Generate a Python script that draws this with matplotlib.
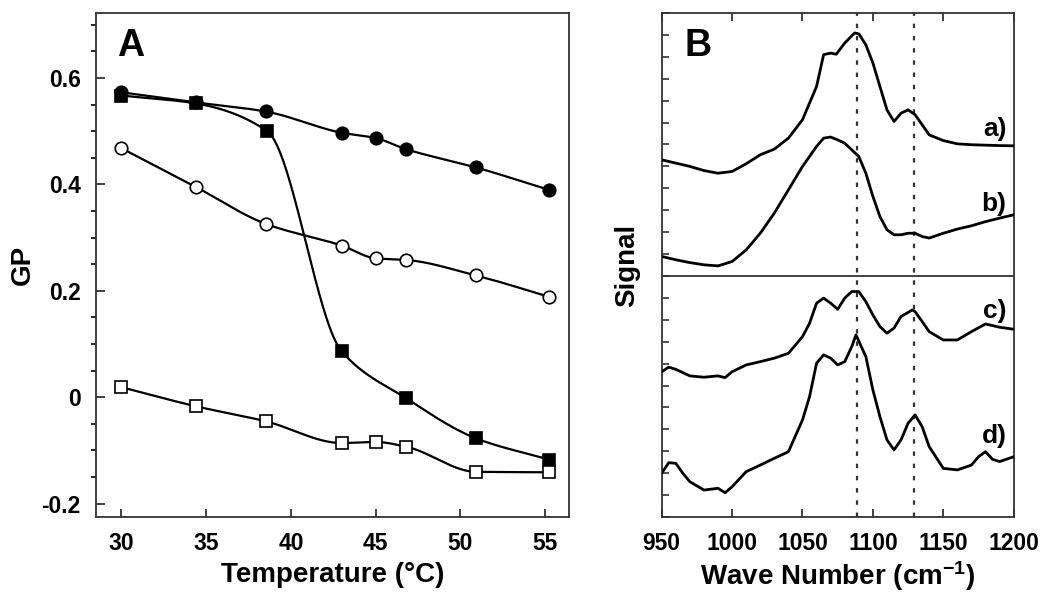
import numpy as np
import matplotlib
matplotlib.use('Agg')
import matplotlib.pyplot as plt
from matplotlib.ticker import MultipleLocator

plt.rcParams['font.family'] = ['Liberation Sans', 'DejaVu Sans']
plt.rcParams['font.weight'] = 'bold'
plt.rcParams['mathtext.fontset'] = 'custom'
plt.rcParams['mathtext.rm'] = 'Liberation Sans:bold'
plt.rcParams['mathtext.default'] = 'rm'

# panel A data (GP vs temperature)
t_fc = [30, 34.4, 38.5, 43.0, 45.0, 46.8, 50.9, 55.2]
gp_fc = [0.573, 0.554, 0.537, 0.497, 0.487, 0.466, 0.432, 0.390]
t_oc = [30, 34.4, 38.5, 43.0, 45.0, 46.8, 50.9, 55.2]
gp_oc = [0.468, 0.395, 0.326, 0.285, 0.261, 0.258, 0.229, 0.189]
t_fs = [30, 34.4, 38.6, 43.0, 46.8, 50.9, 55.2]
gp_fs = [0.567, 0.552, 0.500, 0.086, -0.002, -0.077, -0.117]
t_os = [30, 34.4, 38.5, 43.0, 45.0, 46.8, 50.9, 55.2]
gp_os = [0.019, -0.017, -0.045, -0.086, -0.084, -0.093, -0.140, -0.141]

# panel B data (spectra, arbitrary offset units)
wn_a = [950, 960, 970, 980, 990, 1000, 1010, 1020, 1030, 1040, 1050, 1060, 1065, 1070, 1074,
        1080, 1087, 1090, 1095, 1100, 1105, 1110, 1115, 1120, 1125, 1130, 1140, 1150, 1160,
        1170, 1180, 1190, 1200]
sig_a = [16.30, 16.15, 16.00, 15.81, 15.69, 15.77, 16.12, 16.53, 16.79, 17.29, 18.13, 19.65,
         21.10, 21.17, 21.12, 21.63, 22.09, 22.05, 21.55, 20.72, 19.65, 18.58, 18.05, 18.43,
         18.58, 18.36, 17.44, 17.18, 17.03, 16.99, 16.97, 16.95, 16.94]
wn_b = [950, 960, 970, 980, 990, 1000, 1010, 1020, 1030, 1040, 1050, 1060, 1065, 1070, 1075,
        1080, 1090, 1095, 1100, 1105, 1110, 1115, 1120, 1125, 1130, 1135, 1140, 1150, 1160,
        1170, 1180, 1190, 1200]
sig_b = [11.89, 11.74, 11.61, 11.51, 11.46, 11.66, 12.19, 12.95, 13.87, 14.93, 16.00, 16.91,
         17.29, 17.34, 17.21, 17.06, 16.45, 15.69, 14.63, 13.71, 13.11, 12.88, 12.88, 12.95,
         12.95, 12.80, 12.73, 12.95, 13.14, 13.29, 13.48, 13.64, 13.79]
wn_c = [950, 955, 960, 970, 980, 990, 995, 1000, 1010, 1020, 1030, 1040, 1050, 1055, 1060,
        1065, 1070, 1075, 1080, 1085, 1090, 1095, 1100, 1105, 1110, 1115, 1120, 1128, 1130,
        1135, 1140, 1150, 1160, 1170, 1180, 1190, 1200]
sig_c = [6.63, 6.84, 6.74, 6.44, 6.38, 6.44, 6.36, 6.63, 6.94, 7.09, 7.25, 7.47, 8.23, 8.84,
         9.76, 9.99, 9.76, 9.48, 9.99, 10.29, 10.29, 9.83, 9.22, 8.69, 8.39, 8.62, 9.15, 9.45,
         9.37, 8.92, 8.46, 8.08, 8.08, 8.46, 8.81, 8.66, 8.57]
wn_d = [950, 955, 960, 965, 970, 980, 990, 995, 1000, 1010, 1020, 1030, 1040, 1050, 1055,
        1060, 1065, 1070, 1075, 1080, 1085, 1088, 1095, 1100, 1105, 1110, 1115, 1120, 1125,
        1130, 1135, 1140, 1150, 1160, 1170, 1175, 1180, 1185, 1190, 1200]
sig_d = [2.00, 2.48, 2.45, 2.00, 1.61, 1.23, 1.31, 1.11, 1.38, 2.07, 2.37, 2.68, 2.98, 4.43,
         5.49, 7.02, 7.40, 7.25, 6.94, 7.09, 7.78, 8.31, 7.32, 5.80, 4.58, 3.52, 3.06, 3.52,
         4.28, 4.66, 4.12, 3.21, 2.22, 2.15, 2.37, 2.75, 2.98, 2.63, 2.53, 2.75]
spec_labels = ['a)', 'b)', 'c)', 'd)']
label_sig = [17.7, 14.3, 9.4, 3.7]
ref_lines = [1089, 1129]


def pchip(x, y, xn):
    # monotone cubic through the measured points (smooth guide line)
    x = np.asarray(x, float)
    y = np.asarray(y, float)
    h = np.diff(x)
    d = np.diff(y) / h
    m = np.zeros_like(y)
    m[0], m[-1] = d[0], d[-1]
    for k in range(1, len(x) - 1):
        if d[k - 1] * d[k] > 0:
            w1 = 2 * h[k] + h[k - 1]
            w2 = h[k] + 2 * h[k - 1]
            m[k] = (w1 + w2) / (w1 / d[k - 1] + w2 / d[k])
    i = np.clip(np.searchsorted(x, xn) - 1, 0, len(x) - 2)
    t = (xn - x[i]) / h[i]
    h00 = 2 * t**3 - 3 * t**2 + 1
    h10 = t**3 - 2 * t**2 + t
    h01 = -2 * t**3 + 3 * t**2
    h11 = t**3 - t**2
    return h00 * y[i] + h10 * h[i] * m[i] + h01 * y[i + 1] + h11 * h[i] * m[i + 1]


fig = plt.figure(figsize=(10.5, 6.03), dpi=100)
axA = fig.add_axes([0.0914, 0.1426, 0.4505, 0.8358])
axB = fig.add_axes([0.6302, 0.1426, 0.3352, 0.8358])

spine_c = '#333333'
for ax in (axA, axB):
    for s in ax.spines.values():
        s.set_color(spine_c)
        s.set_linewidth(1.3)

# ---- panel A
series = [(t_fc, gp_fc, 'o', 'black'), (t_oc, gp_oc, 'o', 'white'),
          (t_fs, gp_fs, 's', 'black'), (t_os, gp_os, 's', 'white')]
for tx, gy, mk, fc in series:
    xs = np.linspace(tx[0], tx[-1], 400)
    axA.plot(xs, pchip(tx, gy, xs), color='black', lw=1.6, zorder=2)
for tx, gy, mk, fc in series:
    axA.plot(tx, gy, mk, ms=9, mfc=fc, mec='black', mew=1.2, zorder=3, ls='none')

axA.set_xlim(28.5, 56.4)
axA.set_ylim(-0.225, 0.722)
axA.set_xticks([30, 35, 40, 45, 50, 55])
axA.set_yticks([-0.2, 0, 0.2, 0.4, 0.6])
axA.set_yticklabels(['-0.2', '0', '0.2', '0.4', '0.6'])
axA.yaxis.set_minor_locator(MultipleLocator(0.05))
axA.tick_params(axis='both', direction='in', labelsize=16.5, width=1.3, color=spine_c)
axA.tick_params(axis='x', length=6, pad=11)
axA.tick_params(axis='y', which='major', length=6.5, pad=11)
axA.tick_params(axis='y', which='minor', length=3.5, width=1.2)
axA.set_xlabel('Temperature (°C)', fontsize=20, fontweight='bold', labelpad=5)
axA.set_ylabel('GP', fontsize=20, fontweight='bold')
axA.yaxis.set_label_coords(-0.128, 0.5)
axA.text(0.044, 0.97, 'A', transform=axA.transAxes, fontsize=27, fontweight='bold',
         va='top', ha='left')

# ---- panel B
for w, s in [(wn_a, sig_a), (wn_b, sig_b), (wn_c, sig_c), (wn_d, sig_d)]:
    axB.plot(w, s, color='black', lw=2.0, zorder=3)
for w0 in ref_lines:
    axB.axvline(w0, color='#333333', lw=1.6, ls=(0, (2, 3.5)), zorder=1)
axB.axhline(11, color=spine_c, lw=1.3, zorder=2)
for lab, yv in zip(spec_labels, label_sig):
    axB.text(1195, yv, lab, fontsize=19, fontweight='bold', ha='right', va='center')

axB.set_xlim(950, 1200)
axB.set_ylim(0, 23)
axB.set_xticks([950, 1000, 1050, 1100, 1150, 1200])
axB.set_yticks(np.arange(0, 24, 1))
axB.set_yticklabels([])
axB.tick_params(axis='x', direction='in', top=True, length=6, width=1.3, color=spine_c,
                labelsize=16.5, pad=11)
axB.tick_params(axis='y', direction='in', length=5, width=1.2, color=spine_c)
axB.set_xlabel('Wave Number (cm$^{-1}$)', fontsize=20, fontweight='bold', labelpad=3)
axB.set_ylabel('Signal', fontsize=20, fontweight='bold')
axB.yaxis.set_label_coords(-0.062, 0.5)
axB.text(0.066, 0.97, 'B', transform=axB.transAxes, fontsize=27, fontweight='bold',
         va='top', ha='left')

fig.savefig('out.png', dpi=100)
